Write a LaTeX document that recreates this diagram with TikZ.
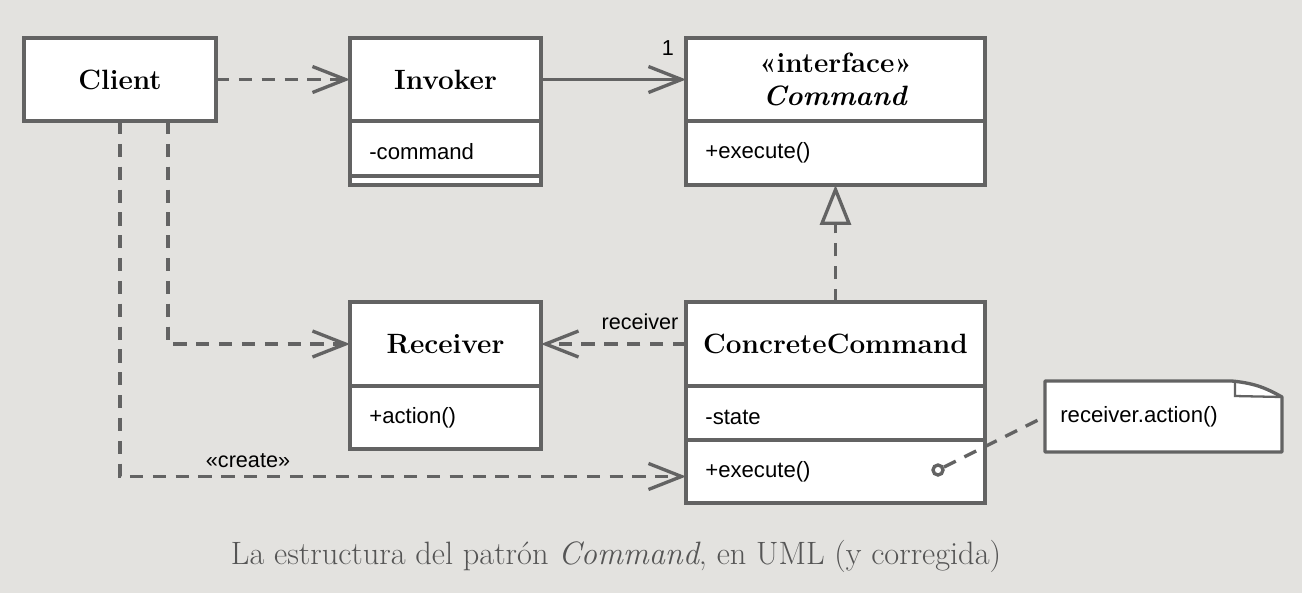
\documentclass[tikz,border=0pt]{standalone}
\usepackage{fontspec}
\setsansfont{Liberation Sans}
\usetikzlibrary{arrows.meta,positioning}
\definecolor{bg}{HTML}{E3E2DF}
\definecolor{lc}{HTML}{636363}
\definecolor{capc}{HTML}{555555}

\begin{document}
\begin{tikzpicture}[x=0.02cm, y=-0.02cm,
    box/.style={draw=lc, fill=white, line width=1.9pt, inner sep=0pt, outer sep=0pt},
    head/.style={box, font=\fontsize{15.9}{19}\selectfont\bfseries, align=center},
    member/.style={anchor=west, inner sep=0pt, font=\sffamily\fontsize{12.6}{14}\selectfont},
    lbl/.style={inner sep=0pt, font=\sffamily\fontsize{12.3}{14}\selectfont},
    barb/.style={-{Straight Barb[length=0.66cm, width=0.52cm]}},
    dep/.style={draw=lc, line width=1.9pt, dash pattern=on 7.5pt off 5.5pt, barb},
    assoc/.style={draw=lc, line width=1.9pt, barb},
    realize/.style={draw=lc, line width=1.9pt, dash pattern=on 7.5pt off 5.5pt,
        -{Triangle[open, length=0.8cm, width=0.62cm]}}]
    \fill[bg] (0,0) rectangle (1302,593);
    \useasboundingbox (0,0) rectangle (1302,593);

    % classes
    \node[head, minimum width=3.84cm, minimum height=1.66cm] (client) at (120,79.5) {Client};

    \node[head, minimum width=3.82cm, minimum height=1.66cm] (inv) at (445.5,79.5) {Invoker};
    \node[box, minimum width=3.82cm, minimum height=1.1cm, below=0pt of inv] (invA) {};
    \node[box, minimum width=3.82cm, minimum height=0.18cm, below=0pt of invA] (invB) {};

    \node[head, minimum width=5.98cm, minimum height=1.66cm] (cmd) at (835.5,79.5)
        {«interface»\\\textit{Command}};
    \node[box, minimum width=5.98cm, minimum height=1.28cm, below=0pt of cmd] (cmdB) {};

    \node[head, minimum width=3.82cm, minimum height=1.68cm] (rcv) at (445.5,344) {Receiver};
    \node[box, minimum width=3.82cm, minimum height=1.26cm, below=0pt of rcv] (rcvB) {};

    \node[head, minimum width=5.98cm, minimum height=1.68cm] (cc) at (835.5,344) {ConcreteCommand};
    \node[box, minimum width=5.98cm, minimum height=1.08cm, below=0pt of cc] (ccA) {};
    \node[box, minimum width=5.98cm, minimum height=1.26cm, below=0pt of ccA] (ccB) {};

    \node[member] (invAt) at ([xshift=0.38cm, yshift=-0.06cm]invA.west) {-command};
    \node[member] (cmdOp) at ([xshift=0.38cm]cmdB.west) {+execute()};
    \node[member] (rcvOp) at ([xshift=0.38cm]rcvB.west) {+action()};
    \node[member] (ccAt) at ([xshift=0.38cm, yshift=-0.08cm]ccA.west) {-state};
    \node[member] (ccOp) at ([xshift=0.38cm]ccB.west) {+execute()};

    % note
    \node[minimum width=4.74cm, minimum height=1.42cm, inner sep=0pt, outer sep=0pt] (note) at (1163.5,416.5) {};
    \filldraw[fill=white, draw=lc, line width=1.9pt, line join=round]
        (note.south west) -- (note.north west) -- ([xshift=-1cm]note.north east)
        to[bend left=12] ([yshift=-0.32cm]note.north east) -- (note.south east) -- cycle;
    \draw[lc, line width=1.3pt] ([xshift=-0.94cm]note.north east) -- ++(0,15)
        -- ([yshift=-0.32cm]note.north east);
    \node[member] (noteTxt) at (1060,417) {receiver.action()};
    \node[circle, draw=lc, fill=white, line width=1.9pt, minimum size=0.2cm, inner sep=0pt] (knob) at (938,470) {};

    % connectors
    \draw[dep] (client) -- (inv);
    \draw[assoc] (inv) -- (cmd);
    \draw[realize] (cc) -- (cmdB);
    \draw[dep] (cc) -- (rcv);
    \draw[dep] ([xshift=0.96cm]client.south) |- (rcv.west);
    \draw[dep] (client.south) |- ([yshift=-0.1cm]ccB.west);
    \draw[lc, line width=1.9pt, dash pattern=on 7.5pt off 5.5pt] (knob) -- (note.west);

    \node[lbl] (mult) at (668,48) {1};
    \node[lbl] (rname) at (640,322) {receiver};
    \node[lbl] (create) at (248,461) {«create»};

    \node[font=\fontsize{18.4}{22}\selectfont, text=capc] (caption) at (616,556)
        {La estructura del patrón \textit{Command}, en UML (y corregida)};
\end{tikzpicture}
\end{document}
